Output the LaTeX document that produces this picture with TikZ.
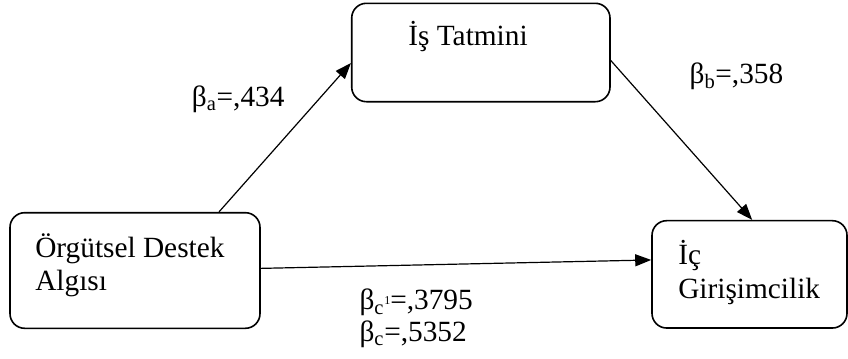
\documentclass[tikz,border=0pt]{standalone}
\usepackage{fontspec}
\setmainfont{Liberation Serif}
\usetikzlibrary{positioning,arrows.meta}

\begin{document}
\begin{tikzpicture}[x=0.75pt,y=-0.75pt,
    font=\fontsize{22}{25}\selectfont,
    kutu/.style={draw,rounded corners=11pt,line width=1.2pt,inner sep=0pt},
    yazi/.style={inner sep=0pt,align=left},
    >={Triangle[length=12pt,width=9pt]}]
   \useasboundingbox (0,0) rectangle (848,358);
   % kutular
   \node[kutu,minimum width=193.7pt,minimum height=73.8pt] (tatmin) at (480.85,52.5) {};
   \node[kutu,minimum width=187.5pt,minimum height=86.7pt] (orgut) at (135,270.5) {};
   \node[kutu,minimum width=146.25pt,minimum height=80.5pt] (icgir) at (749.5,274.35) {};
   % kutu yazilari (base = son satir)
   \node[yazi,anchor=base] (tatminyazi) at (468,45) {İş Tatmini};
   \node[yazi,anchor=base west] (orgutyazi) at (35,290.7) {Örgütsel Destek\\Algısı};
   \node[yazi,anchor=base west] (icgiryazi) at (678,298) {İç\\Girişimcilik};
   % katsayilar
   \node[yazi,anchor=base west] (ba) at (191.7,106.7) {β\textsubscript{a}=,434};
   \node[yazi,anchor=base west] (bb) at (689.3,83.3) {β\textsubscript{b}=,358};
   \node[yazi,anchor=base west,font=\fontsize{22}{23.8}\selectfont] (bc) at (359.3,341.7)
     {β\textsubscript{c}\raisebox{4pt}{\fontsize{9}{9}\selectfont 1}=,3795\\β\textsubscript{c}=,5352};
    \path[->,line width=0.9pt]
      ([xshift=63pt]orgut.north) edge ([yshift=-7.9pt]tatmin.west)
      ([yshift=-6pt]tatmin.east) edge ([xshift=2pt]icgir.north)
      ([yshift=1.6pt]orgut.east) edge ([yshift=10.8pt]icgir.west)
      ;
\end{tikzpicture}
\end{document}
